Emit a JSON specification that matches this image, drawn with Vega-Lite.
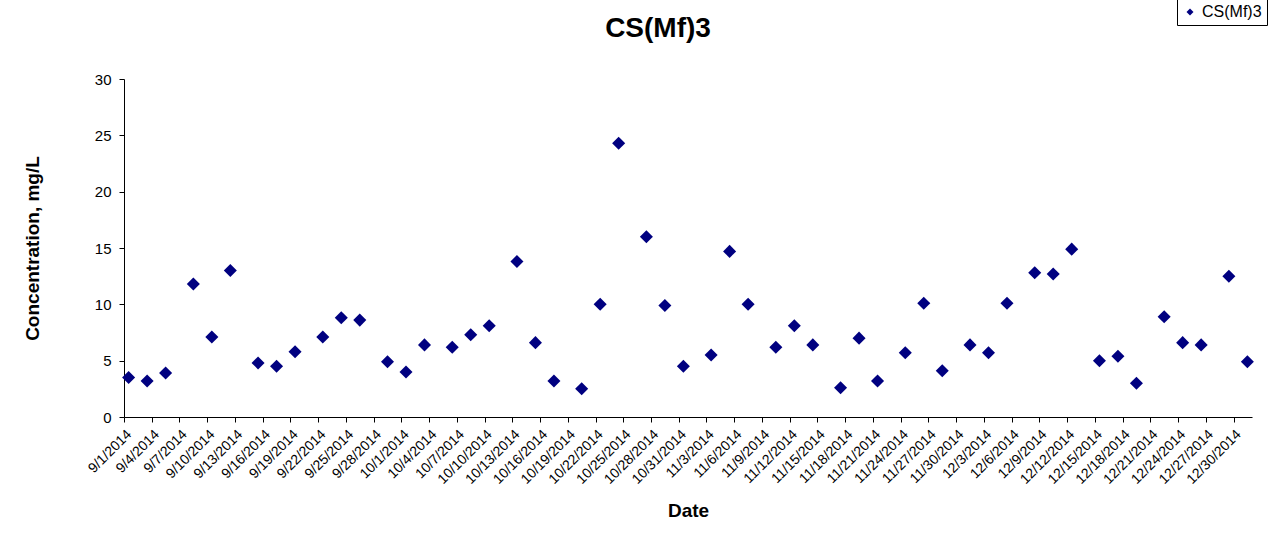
{
  "$schema": "https://vega.github.io/schema/vega-lite/v6.json",
  "width": 1128,
  "height": 338,
  "autosize": {"type": "none"},
  "padding": {"left": 124, "top": 79, "right": 19, "bottom": 139},
  "background": "white",
  "config": {
    "font": "Liberation Sans",
    "view": {"stroke": null},
    "axis": {"grid": false, "domainColor": "#000000", "tickColor": "#000000", "labelColor": "#000000", "titleColor": "#000000", "labelFont": "Liberation Sans", "titleFont": "Liberation Sans"}
  },
  "title": {"text": "CS(Mf)3", "fontSize": 28, "fontWeight": "bold", "font": "Liberation Sans", "color": "#000000", "anchor": "middle", "dx": -30, "offset": -44},
  "data": {
    "values": [
      {"date": "9/1/2014", "value": 3.5, "series": "CS(Mf)3"},
      {"date": "9/3/2014", "value": 3.2, "series": "CS(Mf)3"},
      {"date": "9/5/2014", "value": 3.9, "series": "CS(Mf)3"},
      {"date": "9/8/2014", "value": 11.8, "series": "CS(Mf)3"},
      {"date": "9/10/2014", "value": 7.1, "series": "CS(Mf)3"},
      {"date": "9/12/2014", "value": 13.0, "series": "CS(Mf)3"},
      {"date": "9/15/2014", "value": 4.8, "series": "CS(Mf)3"},
      {"date": "9/17/2014", "value": 4.5, "series": "CS(Mf)3"},
      {"date": "9/19/2014", "value": 5.8, "series": "CS(Mf)3"},
      {"date": "9/22/2014", "value": 7.1, "series": "CS(Mf)3"},
      {"date": "9/24/2014", "value": 8.8, "series": "CS(Mf)3"},
      {"date": "9/26/2014", "value": 8.6, "series": "CS(Mf)3"},
      {"date": "9/29/2014", "value": 4.9, "series": "CS(Mf)3"},
      {"date": "10/1/2014", "value": 4.0, "series": "CS(Mf)3"},
      {"date": "10/3/2014", "value": 6.4, "series": "CS(Mf)3"},
      {"date": "10/6/2014", "value": 6.2, "series": "CS(Mf)3"},
      {"date": "10/8/2014", "value": 7.3, "series": "CS(Mf)3"},
      {"date": "10/10/2014", "value": 8.1, "series": "CS(Mf)3"},
      {"date": "10/13/2014", "value": 13.8, "series": "CS(Mf)3"},
      {"date": "10/15/2014", "value": 6.6, "series": "CS(Mf)3"},
      {"date": "10/17/2014", "value": 3.2, "series": "CS(Mf)3"},
      {"date": "10/20/2014", "value": 2.5, "series": "CS(Mf)3"},
      {"date": "10/22/2014", "value": 10.0, "series": "CS(Mf)3"},
      {"date": "10/24/2014", "value": 24.3, "series": "CS(Mf)3"},
      {"date": "10/27/2014", "value": 16.0, "series": "CS(Mf)3"},
      {"date": "10/29/2014", "value": 9.9, "series": "CS(Mf)3"},
      {"date": "10/31/2014", "value": 4.5, "series": "CS(Mf)3"},
      {"date": "11/3/2014", "value": 5.5, "series": "CS(Mf)3"},
      {"date": "11/5/2014", "value": 14.7, "series": "CS(Mf)3"},
      {"date": "11/7/2014", "value": 10.0, "series": "CS(Mf)3"},
      {"date": "11/10/2014", "value": 6.2, "series": "CS(Mf)3"},
      {"date": "11/12/2014", "value": 8.1, "series": "CS(Mf)3"},
      {"date": "11/14/2014", "value": 6.4, "series": "CS(Mf)3"},
      {"date": "11/17/2014", "value": 2.6, "series": "CS(Mf)3"},
      {"date": "11/19/2014", "value": 7.0, "series": "CS(Mf)3"},
      {"date": "11/21/2014", "value": 3.2, "series": "CS(Mf)3"},
      {"date": "11/24/2014", "value": 5.7, "series": "CS(Mf)3"},
      {"date": "11/26/2014", "value": 10.1, "series": "CS(Mf)3"},
      {"date": "11/28/2014", "value": 4.1, "series": "CS(Mf)3"},
      {"date": "12/1/2014", "value": 6.4, "series": "CS(Mf)3"},
      {"date": "12/3/2014", "value": 5.7, "series": "CS(Mf)3"},
      {"date": "12/5/2014", "value": 10.1, "series": "CS(Mf)3"},
      {"date": "12/8/2014", "value": 12.8, "series": "CS(Mf)3"},
      {"date": "12/10/2014", "value": 12.7, "series": "CS(Mf)3"},
      {"date": "12/12/2014", "value": 14.9, "series": "CS(Mf)3"},
      {"date": "12/15/2014", "value": 5.0, "series": "CS(Mf)3"},
      {"date": "12/17/2014", "value": 5.4, "series": "CS(Mf)3"},
      {"date": "12/19/2014", "value": 3.0, "series": "CS(Mf)3"},
      {"date": "12/22/2014", "value": 8.9, "series": "CS(Mf)3"},
      {"date": "12/24/2014", "value": 6.6, "series": "CS(Mf)3"},
      {"date": "12/26/2014", "value": 6.4, "series": "CS(Mf)3"},
      {"date": "12/29/2014", "value": 12.5, "series": "CS(Mf)3"},
      {"date": "12/31/2014", "value": 4.9, "series": "CS(Mf)3"}
    ]
  },
  "mark": {"type": "point", "shape": "diamond", "filled": true, "size": 170, "opacity": 1},
  "encoding": {
    "x": {
      "field": "date",
      "type": "temporal",
      "timeUnit": "yearmonthdate",
      "bandPosition": 0.5,
      "title": "Date",
      "scale": {"domain": [{"year": 2014, "month": 9, "date": 1}, {"year": 2015, "month": 1, "date": 1}]},
      "axis": {
        "values": [
          {"year": 2014, "month": 9, "date": 1}, {"year": 2014, "month": 9, "date": 4}, {"year": 2014, "month": 9, "date": 7}, {"year": 2014, "month": 9, "date": 10}, {"year": 2014, "month": 9, "date": 13}, {"year": 2014, "month": 9, "date": 16}, {"year": 2014, "month": 9, "date": 19}, {"year": 2014, "month": 9, "date": 22}, {"year": 2014, "month": 9, "date": 25}, {"year": 2014, "month": 9, "date": 28},
          {"year": 2014, "month": 10, "date": 1}, {"year": 2014, "month": 10, "date": 4}, {"year": 2014, "month": 10, "date": 7}, {"year": 2014, "month": 10, "date": 10}, {"year": 2014, "month": 10, "date": 13}, {"year": 2014, "month": 10, "date": 16}, {"year": 2014, "month": 10, "date": 19}, {"year": 2014, "month": 10, "date": 22}, {"year": 2014, "month": 10, "date": 25}, {"year": 2014, "month": 10, "date": 28}, {"year": 2014, "month": 10, "date": 31},
          {"year": 2014, "month": 11, "date": 3}, {"year": 2014, "month": 11, "date": 6}, {"year": 2014, "month": 11, "date": 9}, {"year": 2014, "month": 11, "date": 12}, {"year": 2014, "month": 11, "date": 15}, {"year": 2014, "month": 11, "date": 18}, {"year": 2014, "month": 11, "date": 21}, {"year": 2014, "month": 11, "date": 24}, {"year": 2014, "month": 11, "date": 27}, {"year": 2014, "month": 11, "date": 30},
          {"year": 2014, "month": 12, "date": 3}, {"year": 2014, "month": 12, "date": 6}, {"year": 2014, "month": 12, "date": 9}, {"year": 2014, "month": 12, "date": 12}, {"year": 2014, "month": 12, "date": 15}, {"year": 2014, "month": 12, "date": 18}, {"year": 2014, "month": 12, "date": 21}, {"year": 2014, "month": 12, "date": 24}, {"year": 2014, "month": 12, "date": 27}, {"year": 2014, "month": 12, "date": 30}
        ],
        "format": "%-m/%-d/%Y",
        "formatType": "time",
        "labelAngle": -45,
        "labelAlign": "right",
        "labelBaseline": "top",
        "labelFontSize": 14,
        "labelPadding": 5,
        "labelOverlap": false,
        "labelFlush": false,
        "tickSize": 5,
        "titleFontSize": 19,
        "titleFontWeight": "bold",
        "titlePadding": 15
      }
    },
    "y": {
      "field": "value",
      "type": "quantitative",
      "title": "Concentration, mg/L",
      "scale": {"domain": [0, 30], "nice": false, "zero": true},
      "axis": {
        "values": [0, 5, 10, 15, 20, 25, 30],
        "labelFontSize": 15,
        "labelPadding": 8,
        "tickSize": 5,
        "titleFontSize": 19,
        "titleFontWeight": "bold",
        "titlePadding": 52
      }
    },
    "color": {
      "field": "series",
      "type": "nominal",
      "scale": {"range": ["#000080"]},
      "legend": {
        "title": null,
        "orient": "none",
        "legendX": 1053,
        "legendY": -80,
        "strokeColor": "#000000",
        "fillColor": "#ffffff",
        "padding": 5,
        "symbolType": "diamond",
        "symbolSize": 49,
        "symbolOpacity": 1,
        "symbolFillColor": "#000080",
        "labelFontSize": 16,
        "labelColor": "#000000",
        "labelFont": "Liberation Sans"
      }
    }
  }
}
